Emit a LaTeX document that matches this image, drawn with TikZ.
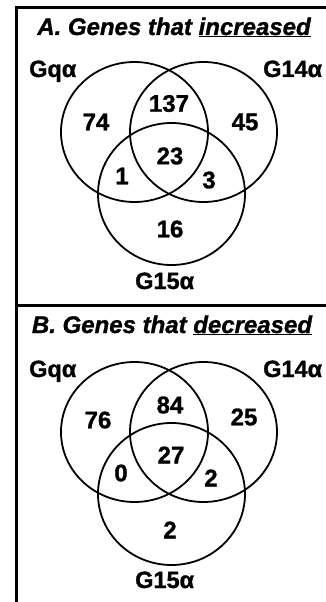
\documentclass[tikz,border=0pt]{standalone}
\usepackage{fontspec}
\setmainfont{Liberation Sans}[BoldFeatures={FakeBold=1.2},BoldItalicFeatures={FakeBold=1.2}]
\begin{document}
\begin{tikzpicture}[x=1pt,y=-1pt,
  venn/.style={draw=black,line width=1.8pt},
  num/.style={font=\fontsize{24}{24}\selectfont\bfseries,inner sep=0pt},
  setlabel/.style={font=\fontsize{23.5}{24}\selectfont\bfseries,inner sep=0pt,anchor=base west},
  ttl/.style={font=\fontsize{24}{24}\selectfont\bfseries\itshape,inner sep=0pt,anchor=base},
  frame/.style={draw=black,line width=3pt}]
\useasboundingbox (0,0) rectangle (325,602);
\coordinate (tl) at (16.5,7.5);
\coordinate (tr) at (330,7.5);
\coordinate (bl) at (16.5,610);
\coordinate (ml) at (16.5,305);
\coordinate (mr) at (330,305);
\draw[frame] (bl) -- (tl) -- (tr);
\draw[frame] (ml) -- (mr);
% Panel A
\node[ttl] (tA) at (174,35) {A. Genes that \underline{increased}};
\draw[venn] (134.5,132) ellipse [x radius=73.5, y radius=70];
\draw[venn] (203.5,132) ellipse [x radius=73.5, y radius=70];
\draw[venn] (171.5,194) ellipse [x radius=73.5, y radius=71];
\node[setlabel] (gqA) at (29,77) {Gqα};
\node[setlabel] (g14A) at (263,77) {G14α};
\node[setlabel] (g15A) at (135,289) {G15α};
\node[num] (a1) at (96,122) {74};
\node[num] (a2) at (169,103.5) {137};
\node[num] (a3) at (245,122) {45};
\node[num] (a4) at (170,156) {23};
\node[num] (a5) at (122,176) {1};
\node[num] (a6) at (209,180) {3};
\node[num] (a7) at (170,229) {16};
% Panel B
\node[ttl] (tB) at (172,333) {B. Genes that \underline{decreased}};
\draw[venn] (134.5,432) ellipse [x radius=73.5, y radius=70];
\draw[venn] (203.5,432) ellipse [x radius=73.5, y radius=70];
\draw[venn] (171.5,494) ellipse [x radius=73.5, y radius=71];
\node[setlabel] (gqB) at (29,377) {Gqα};
\node[setlabel] (g14B) at (263,377) {G14α};
\node[setlabel] (g15B) at (135,588) {G15α};
\node[num] (b1) at (98,420) {76};
\node[num] (b2) at (170,405) {84};
\node[num] (b3) at (244,417) {25};
\node[num] (b4) at (171,455) {27};
\node[num] (b5) at (121,473) {0};
\node[num] (b6) at (211,478) {2};
\node[num] (b7) at (170,530) {2};
\end{tikzpicture}
\end{document}
